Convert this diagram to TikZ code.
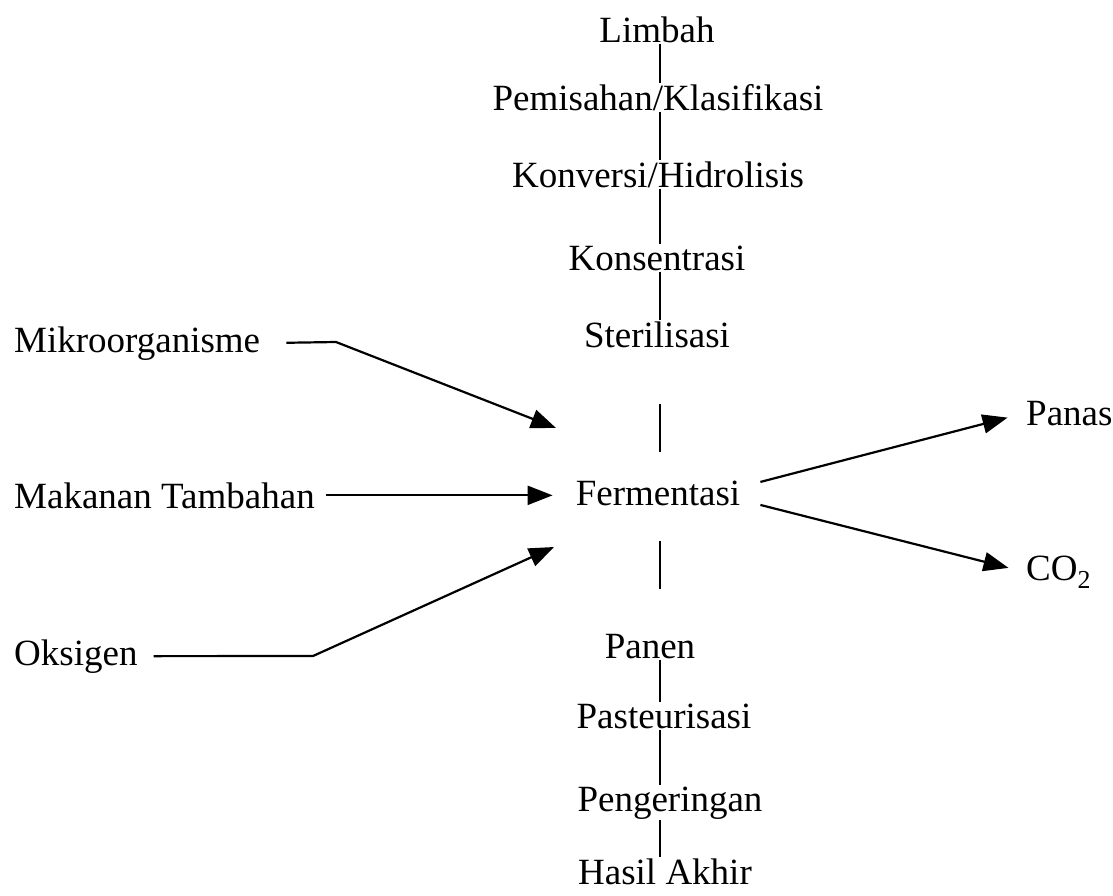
\documentclass[tikz,border=0pt]{standalone}
\usepackage{fontspec}
\setmainfont{Liberation Serif}
\usetikzlibrary{arrows.meta}

\tikzset{
  proc/.style={inner sep=1pt,anchor=base},
  side/.style={inner sep=1pt,anchor=base west},
  link/.style={line width=2.2pt},
  feed/.style={line width=2.2pt,-{Triangle[length=25pt,width=19pt]}},
}

\begin{document}
\begin{tikzpicture}[x=1pt,y=-1pt,font=\fontsize{37}{44}\selectfont]
  \useasboundingbox (0,0) rectangle (1113,895);
  \coordinate (spine) at (660,0);
  % main line
  \node[proc] (limbah) at (657,42) {Limbah};
  \node[proc] (pemisahan) at (658,110) {Pemisahan/Klasifikasi};
  \node[proc] (konversi) at (658,187) {Konversi/Hidrolisis};
  \node[proc] (konsentrasi) at (657,270) {Konsentrasi};
  \node[proc] (steril) at (657,347) {Sterilisasi};
  \node[proc] (ferm) at (658,505) {Fermentasi};
  \node[proc] (panen) at (650,658) {Panen};
  \node[proc] (pasteur) at (664,728) {Pasteurisasi};
  \node[proc] (kering) at (670,811) {Pengeringan};
  \node[proc] (hasil) at (665,884) {Hasil Akhir};
  \draw[link] (limbah.south -| spine) -- (pemisahan.north -| spine);
  \draw[link] (pemisahan.south -| spine) -- (konversi.north -| spine);
  \draw[link] (konversi.south -| spine) -- (konsentrasi.north -| spine);
  \draw[link] (konsentrasi.south -| spine) -- (steril.north -| spine);
  \draw[link,shorten <=55pt,shorten >=27pt] (steril.south -| spine) -- (ferm.north -| spine);
  \draw[link,shorten <=34pt,shorten >=44pt] (ferm.south -| spine) -- (panen.north -| spine);
  \draw[link] (panen.south -| spine) -- (pasteur.north -| spine);
  \draw[link] (pasteur.south -| spine) -- (kering.north -| spine);
  \draw[link] (kering.south -| spine) -- (hasil.north -| spine);
  % inputs
  \node[side] (mikro) at (13,352) {Mikroorganisme};
  \node[side] (makanan) at (13,508) {Makanan Tambahan};
  \node[side] (oksigen) at (13,665) {Oksigen};
  \coordinate (bendMikro) at (336,342);
  \coordinate (tipMikro) at (556,428);
  \coordinate (bendOksigen) at (313,656);
  \coordinate (tipOksigen) at (554,547);
  \draw[feed,shorten <=25pt] (mikro.east) -- (bendMikro) -- (tipMikro);
  \draw[feed,shorten <=10pt,shorten >=22pt] (makanan.east) -- (makanan.east -| ferm.west);
  \draw[feed,shorten <=15pt] (oksigen.east) -- (bendOksigen) -- (tipOksigen);
  % outputs
  \node[side] (panas) at (1025,425) {Panas};
  \node[side] (co) at (1025,580) {CO\textsubscript{2}};
  \draw[feed,shorten >=18pt] ([shift={(19,-11)}]ferm.east) -- (panas.west);
  \draw[feed,shorten >=17pt] ([shift={(19,12)}]ferm.east) -- (co.west);
\end{tikzpicture}
\end{document}
